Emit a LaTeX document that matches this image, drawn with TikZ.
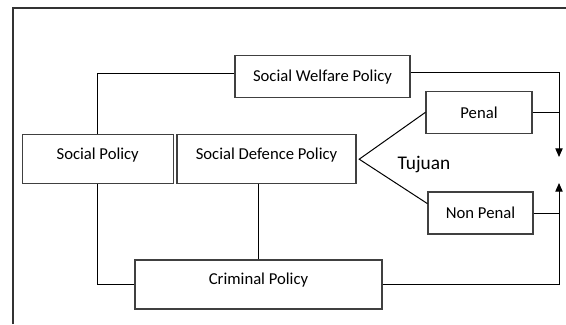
\documentclass[tikz,border=0pt]{standalone}
\usepackage{fontspec}
\setmainfont{Carlito}
\usetikzlibrary{arrows.meta}

\begin{document}
\begin{tikzpicture}[x=0.75pt, y=-0.75pt,
  policybox/.style={draw=black!75, line width=0.8pt, inner sep=0pt,
    minimum height=31.5pt, font=\fontsize{12.5}{14}\selectfont},
  tallbox/.style={policybox, minimum height=36.75pt, text depth=8.5pt},
  link/.style={draw=black, line width=0.75pt},
  goal/.style={link, -{Triangle[width=5.5pt,length=6.5pt]}}]
\useasboundingbox (0,0) rectangle (566,324);
%% frame
\draw [line width=1.6pt, draw=black!80] (12.6,324) -- (12.6,8) -- (566,8);
%% boxes
\node [policybox, minimum width=131.25pt] (welfare) at (322.5,76.7) {Social Welfare Policy};
\node [tallbox, minimum width=113pt] (social) at (97.7,159.2) {Social Policy};
\node [tallbox, minimum width=134.25pt] (defence) at (266.5,159.2) {Social Defence Policy};
\node [policybox, minimum width=79.5pt] (penal) at (479,112.3) {Penal};
\node [policybox, minimum width=78.75pt] (nonpenal) at (480.5,213) {Non Penal};
\node [tallbox, minimum width=185.25pt] (criminal) at (258.5,284.5) {Criminal Policy};
\node (tujuan) at (424,165) {\fontsize{14.5}{16}\selectfont Tujuan};
%% links on the left
\draw [link] (social.north) |- ([yshift=2.5pt]welfare.west);
\draw [link] (social.south) |- (criminal.west);
\draw [link] (criminal.north) -- (criminal.north |- defence.south);
%% tujuan fork
\coordinate (fork) at ([xshift=2pt]defence.east);
\draw [link] (penal.west) -- (fork) -- (nonpenal.170);
%% arrows on the right
\coordinate (tipup) at (559,157);
\coordinate (tipdown) at (559,183);
\draw [goal] ([yshift=3.5pt]welfare.east) -| (tipup);
\draw [goal] (criminal.east) -| (tipdown);
\draw [link] (penal.east) -- (penal.east -| tipup);
\draw [link] (nonpenal.east) -- (nonpenal.east -| tipdown);
\end{tikzpicture}
\end{document}
